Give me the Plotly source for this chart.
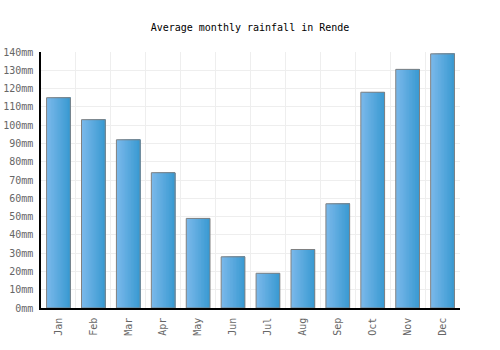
import plotly.graph_objects as go

months = ["Jan", "Feb", "Mar", "Apr", "May", "Jun", "Jul", "Aug", "Sep", "Oct", "Nov", "Dec"]
rainfall = [115, 103, 92, 74, 49, 28, 19, 32, 57, 118, 130.5, 139]
y_ticks = list(range(0, 141, 10))
y_tick_text = [f"{v}mm" for v in y_ticks]

FONT = "DejaVu Sans Mono"
bar_w = 0.68
n = 16
c0 = (122, 184, 234)
c1 = (58, 154, 210)

fig = go.Figure()
for i in range(n):
    t = i / (n - 1)
    col = tuple(round(c0[k] + (c1[k] - c0[k]) * t) for k in range(3))
    w = bar_w / n
    fig.add_trace(go.Bar(
        x=months, y=rainfall, width=bar_w - i * w, offset=-bar_w / 2 + i * w,
        marker=dict(color=f"rgb{col}", line=dict(width=0)),
        hoverinfo="skip", showlegend=False,
    ))
fig.add_trace(go.Bar(
    x=months, y=rainfall, width=bar_w,
    marker=dict(color="rgba(0,0,0,0)", line=dict(color="#808080", width=1)),
    showlegend=False,
))

fig.update_layout(
    width=500, height=350,
    margin=dict(l=41, r=40, t=52, b=42),
    barmode="overlay",
    plot_bgcolor="white", paper_bgcolor="white",
    title=dict(text="Average monthly rainfall in Rende", x=0.5, xanchor="center",
               y=1 - 27 / 350, yanchor="middle",
               font=dict(family=FONT, size=10, color="black")),
    font=dict(family=FONT, size=10, color="#666"),
)
fig.update_xaxes(
    type="category", tickson="boundaries", showgrid=True, gridcolor="#eeeeee",
    showline=True, linecolor="black", linewidth=1.5, tickangle=-90, ticks="",
    tickfont=dict(family=FONT, size=10, color="#666"), range=[-0.5, 11.5],
    automargin=False, ticklabelstandoff=4,
)
fig.update_yaxes(
    range=[0, 140], tickvals=y_ticks, ticktext=y_tick_text, showgrid=True,
    gridcolor="#eeeeee", showline=True, linecolor="black", linewidth=1.5,
    zeroline=False, ticks="", tickfont=dict(family=FONT, size=10, color="#666"),
    automargin=False, ticklabelstandoff=4,
)
fig.write_html("out.html")
